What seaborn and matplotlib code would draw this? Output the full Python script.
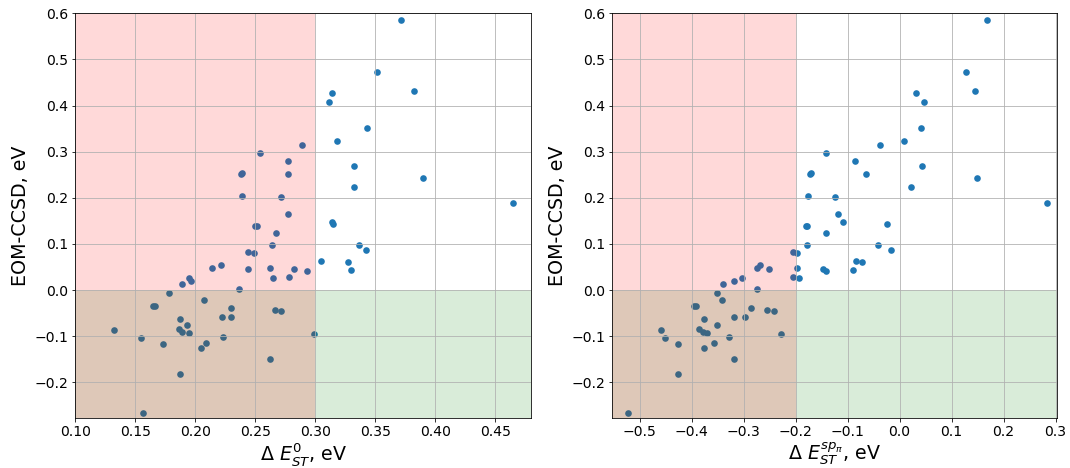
import matplotlib
matplotlib.use("Agg")
import matplotlib.pyplot as plt
import seaborn as sns
import numpy as np
import pandas as pd

# EOM-CCSD values (eV), shared by both panels
eom_ccsd = [0.586, 0.473, 0.432, 0.427, 0.408, 0.351, 0.324, 0.314, 0.298, 0.280,
            0.268, 0.252, 0.253, 0.252, 0.242, 0.224, 0.205, 0.201, 0.189, 0.164,
            0.147, 0.143, 0.139, 0.139, 0.123, 0.098, 0.097, 0.087, 0.083, 0.081,
            0.063, 0.060, 0.055, 0.048, 0.046, 0.048, 0.045, 0.041, 0.043, 0.029,
            0.026, 0.026, 0.019, 0.014, 0.002, -0.007, -0.021, -0.035, -0.034, -0.038,
            -0.044, -0.046, -0.059, -0.059, -0.063, -0.075, -0.087, -0.085, -0.090, -0.093,
            -0.095, -0.103, -0.101, -0.116, -0.115, -0.126, -0.150, -0.181, -0.267]

# Delta E_ST^0 (eV)
de_st_0 = [0.371, 0.351, 0.382, 0.3137, 0.3117, 0.343, 0.318, 0.289, 0.254, 0.277,
           0.332, 0.238, 0.239, 0.277, 0.390, 0.3323, 0.239, 0.271, 0.465, 0.277,
           0.314, 0.315, 0.250, 0.251, 0.2675, 0.264, 0.3367, 0.342, 0.244, 0.249,
           0.3045, 0.327, 0.221, 0.2137, 0.244, 0.262, 0.282, 0.293, 0.330, 0.278,
           0.265, 0.195, 0.196, 0.189, 0.236, 0.178, 0.207, 0.165, 0.166, 0.230,
           0.2667, 0.2717, 0.222, 0.230, 0.1875, 0.193, 0.132, 0.186, 0.1887, 0.195,
           0.2987, 0.1545, 0.223, 0.173, 0.209, 0.205, 0.262, 0.1875, 0.156]

# Delta E_ST^{sp_pi} (eV)
de_st_sp = [0.1685, 0.127, 0.1455, 0.031, 0.0476, 0.0407, 0.0092, -0.038, -0.1417, -0.086,
            0.0438, -0.1724, -0.170, -0.0639, 0.149, 0.022, -0.176, -0.1244, 0.2825, -0.1186,
            -0.108, -0.0244, -0.180, -0.178, -0.1417, -0.179, -0.0413, -0.0169, -0.2058, -0.1973,
            -0.0848, -0.0726, -0.2678, -0.2749, -0.251, -0.1968, -0.147, -0.1417, -0.0898, -0.2058,
            -0.194, -0.303, -0.318, -0.339, -0.2735, -0.3516, -0.341, -0.3944, -0.391, -0.2863,
            -0.2543, -0.242, -0.318, -0.298, -0.377, -0.3516, -0.459, -0.3855, -0.378, -0.3695,
            -0.2274, -0.452, -0.328, -0.4265, -0.3567, -0.376, -0.318, -0.4265, -0.5217]

thresholds = [0.30, -0.20]
x_labels = [r'$\Delta\ E^{0}_{ST}$, eV', r'$\Delta\ E^{sp_\pi}_{ST}$, eV']
x_limits = [(0.10, 0.48), (-0.553, 0.302)]
y_limits = (-0.278, 0.6)
y_label = 'EOM-CCSD, eV'

df = pd.DataFrame({'eom': eom_ccsd, 'x0': de_st_0, 'xsp': de_st_sp})

W, H, DPI = 1070, 468, 72
fig = plt.figure(figsize=(W / DPI, H / DPI), dpi=DPI)
ax_l = fig.add_axes([75.3 / W, 1 - 418.3 / H, 456 / W, 405 / H])
ax_r = fig.add_axes([612 / W, 1 - 418.3 / H, 444.7 / W, 405 / H])

for ax, xcol, thr, xl, xlim in zip([ax_l, ax_r], ['x0', 'xsp'], thresholds, x_labels, x_limits):
    sns.scatterplot(data=df, x=xcol, y='eom', ax=ax, color='#1f77b4', s=44, linewidth=0)
    ax.set_xlim(*xlim)
    ax.set_ylim(*y_limits)
    ax.axhspan(-1.0, 0.0, color='g', alpha=0.15, linewidth=0)
    ax.axvspan(-1.0, thr, color='r', alpha=0.15, linewidth=0)
    ax.set_xlim(*xlim)
    ax.grid(True, color='#b0b0b0', linewidth=0.8)
    ax.set_xlabel(xl, fontsize=19, labelpad=1.5)
    ax.set_ylabel(y_label, fontsize=19)
    ax.tick_params(labelsize=14)

ax_l.set_xticks(np.arange(0.10, 0.46, 0.05))
ax_r.set_xticks(np.arange(-0.5, 0.31, 0.1))
for ax in (ax_l, ax_r):
    ax.set_yticks(np.arange(-0.2, 0.61, 0.1))

fig.savefig('out.png', dpi=DPI)
